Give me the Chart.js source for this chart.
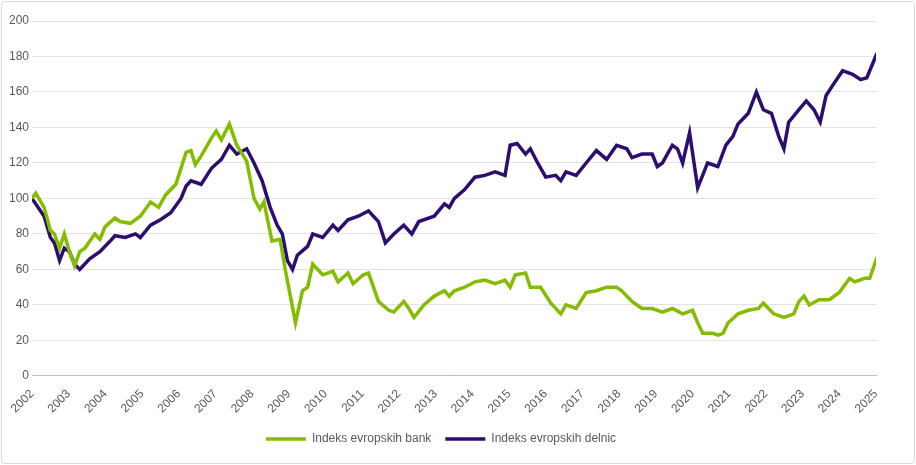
<!DOCTYPE html>
<html>
<head>
<meta charset="utf-8">
<script src="https://cdn.jsdelivr.net/npm/chart.js@4/dist/chart.umd.min.js"></script>
<style>
  body { margin: 0; background: #fff; }
  #wrap { position: absolute; left: 1px; top: 1px; width: 912px; height: 461px; border: 1px solid #d9d9d9; border-radius: 4px; }
</style>
</head>
<body>
<div id="wrap"><canvas id="graf"></canvas></div>
<script>
// podatki [leto, vrednost]
const banke = [
  [2002.00,100],[2002.10,103],[2002.33,95],[2002.50,82],[2002.61,80],[2002.75,72],[2002.88,80],[2003.02,70],[2003.16,62],[2003.30,70],
  [2003.44,72],[2003.71,80],[2003.85,77],[2003.99,84],[2004.26,89],[2004.40,87],[2004.68,86],[2004.95,90],[2005.23,98],[2005.45,95],
  [2005.64,102],[2005.92,108],[2006.20,126],[2006.33,127],[2006.45,119],[2006.61,124],[2006.89,134],[2007.02,138],[2007.16,133],[2007.38,142],
  [2007.58,130],[2007.85,121],[2008.05,100],[2008.21,94],[2008.32,98],[2008.54,76],[2008.76,77],[2008.90,60],[2009.04,45],[2009.18,30],
  [2009.37,48],[2009.51,50],[2009.65,63],[2009.92,57],[2010.20,59],[2010.34,53],[2010.61,58],[2010.75,52],[2011.03,57],[2011.17,58],
  [2011.44,42],[2011.72,37],[2011.86,36],[2012.13,42],[2012.27,38],[2012.41,33],[2012.68,40],[2012.96,45],[2013.24,48],[2013.37,45],
  [2013.51,48],[2013.79,50],[2014.07,53],[2014.34,54],[2014.62,52],[2014.89,54],[2015.03,50],[2015.17,57],[2015.45,58],[2015.58,50],
  [2015.86,50],[2016.14,41],[2016.41,35],[2016.55,40],[2016.83,38],[2017.10,47],[2017.38,48],[2017.66,50],[2017.93,50],[2018.07,48],
  [2018.35,42],[2018.62,38],[2018.90,38],[2019.18,36],[2019.45,38],[2019.73,35],[2020.00,37],[2020.14,30],[2020.28,24],[2020.55,24],
  [2020.69,23],[2020.83,24],[2020.97,30],[2021.24,35],[2021.52,37],[2021.80,38],[2021.93,41],[2022.21,35],[2022.49,33],[2022.76,35],
  [2022.90,42],[2023.04,45],[2023.18,40],[2023.45,43],[2023.73,43],[2024.00,47],[2024.28,55],[2024.42,53],[2024.69,55],[2024.83,55],
  [2025.03,67]
];
const delnice = [
  [2002.00,100],[2002.33,90],[2002.50,78],[2002.61,75],[2002.75,65],[2002.88,72],[2003.02,70],[2003.16,63],[2003.30,60],[2003.57,66],
  [2003.85,70],[2004.13,76],[2004.26,79],[2004.54,78],[2004.82,80],[2004.95,78],[2005.23,85],[2005.50,88],[2005.78,92],[2006.06,100],
  [2006.20,107],[2006.33,110],[2006.61,108],[2006.89,117],[2007.16,122],[2007.38,130],[2007.58,125],[2007.85,128],[2008.05,120],[2008.27,110],
  [2008.49,95],[2008.68,85],[2008.82,80],[2008.96,65],[2009.10,60],[2009.23,68],[2009.51,73],[2009.65,80],[2009.92,78],[2010.20,85],
  [2010.34,82],[2010.61,88],[2010.89,90],[2011.17,93],[2011.44,87],[2011.63,75],[2011.86,80],[2012.13,85],[2012.35,80],[2012.54,87],
  [2012.96,90],[2013.24,97],[2013.37,95],[2013.51,100],[2013.79,105],[2014.07,112],[2014.34,113],[2014.62,115],[2014.89,113],[2015.03,130],
  [2015.22,131],[2015.45,125],[2015.58,128],[2015.78,120],[2016.00,112],[2016.27,113],[2016.41,110],[2016.55,115],[2016.83,113],[2017.10,120],
  [2017.38,127],[2017.66,122],[2017.93,130],[2018.21,128],[2018.35,123],[2018.62,125],[2018.90,125],[2019.04,118],[2019.18,120],[2019.45,130],
  [2019.59,128],[2019.73,120],[2019.92,137],[2020.14,106],[2020.41,120],[2020.69,118],[2020.91,130],[2021.10,135],[2021.24,142],[2021.52,148],
  [2021.74,160],[2021.93,150],[2022.15,148],[2022.35,135],[2022.49,128],[2022.62,143],[2022.90,150],[2023.10,155],[2023.31,150],[2023.48,143],
  [2023.64,158],[2023.86,165],[2024.09,172],[2024.36,170],[2024.58,167],[2024.75,168],[2025.03,182]
];
const oznake = ["Indeks evropskih bank", "Indeks evropskih delnic"];

const siva = "#595959";
Chart.defaults.font.family = "'Liberation Sans', Arial, sans-serif";
Chart.defaults.font.size = 12;
Chart.defaults.color = siva;

const tocke = arr => arr.map(p => ({ x: p[0], y: p[1] }));

new Chart(document.getElementById("graf"), {
  type: "line",
  data: {
    datasets: [
      { label: oznake[0], data: tocke(banke), borderColor: "#84bd00", backgroundColor: "#84bd00", borderWidth: 3.5, pointRadius: 0, tension: 0 },
      { label: oznake[1], data: tocke(delnice), borderColor: "#2d0e6e", backgroundColor: "#2d0e6e", borderWidth: 3.5, pointRadius: 0, tension: 0 }
    ]
  },
  options: {
    responsive: true,
    maintainAspectRatio: false,
    animation: false,
    layout: { padding: { left: 4, right: 38, top: 19, bottom: 8 } },
    plugins: {
      legend: {
        position: "bottom",
        labels: { usePointStyle: true, pointStyle: "line", pointStyleWidth: 40, padding: 14, color: siva }
      },
      tooltip: { enabled: false }
    },
    scales: {
      x: {
        type: "linear", min: 2002, max: 2025,
        ticks: { stepSize: 1, maxRotation: 45, minRotation: 45, callback: v => String(v) },
        grid: { display: false, drawTicks: true },
        border: { color: "#bfbfbf" }
      },
      y: {
        min: 0, max: 200,
        ticks: { stepSize: 20 },
        grid: { color: "#e3e3e3", drawTicks: false },
        border: { display: false }
      }
    }
  }
});
</script>
</body>
</html>
